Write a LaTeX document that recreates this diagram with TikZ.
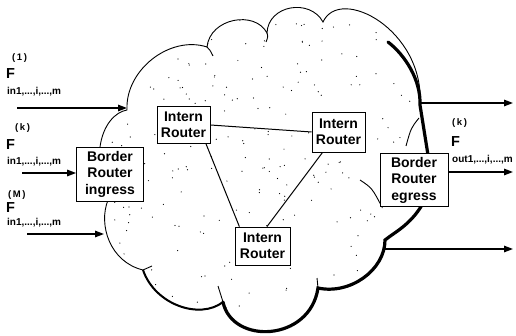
\documentclass[tikz,border=0pt]{standalone}
\usepackage{fontspec}
\setmainfont{Liberation Sans}
\usetikzlibrary{arrows.meta}
\begin{document}
\begin{tikzpicture}[x=1pt,y=-1pt,
  router/.style={draw,line width=0.8pt,fill=white,align=center,inner sep=1pt,
    font=\fontsize{14}{16.5}\selectfont\bfseries,minimum width=53pt,minimum height=37pt},
  border/.style={router,minimum width=67pt,minimum height=54pt},
  flow/.style={line width=1.4pt,-{Triangle[length=9pt,width=6.5pt]}},
  edge/.style={line width=1pt},
  thin/.style={line width=0.9pt},
  shadow/.style={line width=3.2pt,line cap=round},
  sup/.style={anchor=west,inner sep=0pt,font=\fontsize{9.5}{10}\selectfont\bfseries},
  big/.style={anchor=west,inner sep=0pt,font=\fontsize{14.5}{14.5}\selectfont\bfseries},
  sub/.style={anchor=west,inner sep=0pt,font=\fontsize{10}{10}\selectfont\bfseries}]
\useasboundingbox (0,0) rectangle (516,336);
\def\cloudpath{(127,110) .. controls (125,70) and (170,35) .. (207,47)
 .. controls (210,18) and (255,10) .. (267,33)
 .. controls (268,5) and (310,-2) .. (323,22)
 .. controls (340,-15) and (425,30) .. (420,105)
 -- (428,155) -- (422,205)
 .. controls (410,225) and (395,232) .. (385,240)
 .. controls (385,270) and (350,295) .. (318,288)
 .. controls (310,342) and (232,345) .. (223,302)
 .. controls (200,320) and (155,305) .. (143,270)
 .. controls (110,262) and (98,225) .. (108,200)
 -- (100,147)
 .. controls (103,125) and (115,112) .. (127,110) -- cycle}
% cloud
\fill[white] \cloudpath;
\begin{scope}
  \clip \cloudpath;
  \pgfmathsetseed{11}
  \foreach \i in {1,...,240}{
    \fill ({110+310*rnd},{20+290*rnd}) circle (0.6pt);
  }
\end{scope}
\draw[thin] \cloudpath;
% shadow (thick lower/right edge)
\draw[shadow] (388,42) .. controls (405,55) and (421,80) .. (420,105) -- (428,155);
\draw[shadow] (422,205) .. controls (410,225) and (395,232) .. (385,240)
 .. controls (385,270) and (350,295) .. (318,288)
 .. controls (310,342) and (232,345) .. (223,302);
\draw[line width=2pt] (223,302) .. controls (200,320) and (155,305) .. (143,270);
% lobe hooks and inner lobe lines
\draw[thin] (207,47) .. controls (210,50) .. (213,56);
\draw[thin] (267,33) .. controls (268,37) .. (266,42);
\draw[thin] (223,302) .. controls (221,294) .. (218,286);
\draw[thin] (143,270) .. controls (147,268) .. (152,266);
\draw[thin] (318,288) .. controls (318,283) .. (317,278);
\draw[thin] (360,180) .. controls (372,188) .. (382,207);
\draw[thin] (419,118) .. controls (411,128) .. (406,146);
% routers
\node[router] (A) at (183.5,125) {Intern\\Router};
\node[router,minimum height=40pt] (B) at (338.5,132) {Intern\\Router};
\node[router,minimum width=55pt,minimum height=38pt] (C) at (262.5,246) {Intern\\Router};
\node[border] (ing) at (110,174) {Border\\Router\\ingress};
\node[border,minimum width=68pt,minimum height=53pt] (eg) at (414,180) {Border\\Router\\egress};
% router links
\draw[edge] (A.east) -- (B.west);
\draw[edge] (A.-40) -- (C.140);
\draw[edge] (B.-128) -- (C.77);
% input flows
\coordinate (s1) at (17,108);
\coordinate (e1) at (127,108);
\coordinate (sk) at (22,173);
\coordinate (sM) at (27,234);
\coordinate (eM) at (104,234);
\draw[flow] (s1) -- (e1);
\draw[flow] (sk) -- (sk -| ing.west);
\draw[flow] (sM) -- (eM);
% output flows
\coordinate (o1s) at (421,103);
\coordinate (o1e) at (513,103);
\coordinate (oke) at (513,172);
\coordinate (o3s) at (384,249);
\coordinate (o3e) at (513,249);
\draw[flow] (o1s) -- (o1e);
\draw[flow] (oke -| eg.east) -- (oke);
\draw[flow] (o3s) -- (o3e);
% labels
\node[sup] (t1) at (12,58) {(\,1\,)};
\node[big] (f1) at (6,74) {F};
\node[sub] (u1) at (7,92) {in1,...,i,...,m};
\node[sup] (tk) at (15,128) {(\,k\,)};
\node[big] (fk) at (6,145) {F};
\node[sub] (uk) at (7,162) {in1,...,i,...,m};
\node[sup] (tM) at (8,195) {(\,M\,)};
\node[big] (fM) at (6,208) {F};
\node[sub] (uM) at (7,223) {in1,...,i,...,m};
\node[sup] (tk2) at (452,123) {(\,k\,)};
\node[big] (fk2) at (451,142) {F};
\node[sub] (uk2) at (452,160) {out1,...,i,...,m};
\end{tikzpicture}
\end{document}
